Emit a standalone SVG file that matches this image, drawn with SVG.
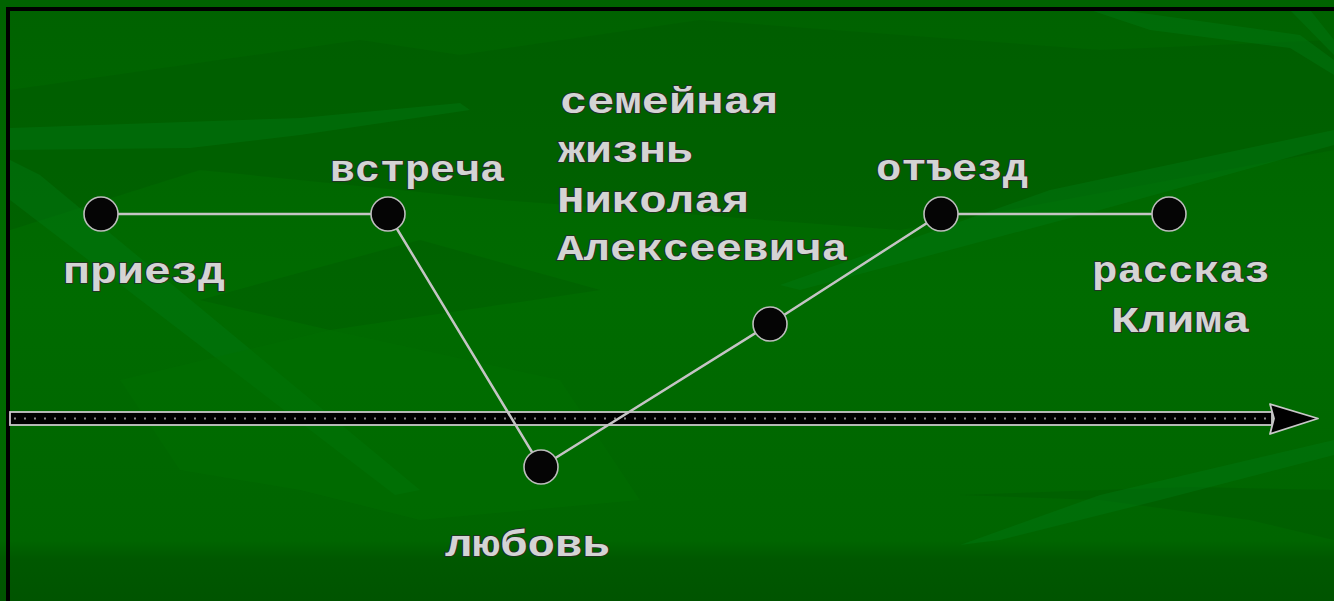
<svg xmlns="http://www.w3.org/2000/svg" width="1334" height="601" viewBox="0 0 1334 601">
<defs>
<linearGradient id="bg" x1="0" y1="0" x2="0" y2="1">
<stop offset="0" stop-color="#006200"/>
<stop offset="0.5" stop-color="#006b00"/>
<stop offset="0.9" stop-color="#006500"/>
<stop offset="0.93" stop-color="#005800"/>
<stop offset="1" stop-color="#005400"/>
</linearGradient>
<style>
.lbl{font-family:"Liberation Mono","DejaVu Sans Mono",monospace;font-size:36px;font-weight:bold;fill:#d4d4d4;stroke:#2a2a2a;stroke-width:1.6px;paint-order:stroke;}
.conn{stroke:#c4c4c4;stroke-width:2.5;fill:none;stroke-linecap:round;}
.dot{fill:#050505;stroke:#bdbdbd;stroke-width:1.6;}
.streak{fill:#007a14;opacity:0.4;}
.shade{fill:#005800;opacity:0.4;}
</style>
</defs>
<rect x="0" y="0" width="1334" height="601" fill="url(#bg)"/>
<g id="background">
<polygon class="shade" points="10,90 360,40 460,55 700,20 1100,50 1334,40 1334,150 900,230 500,200 200,170 10,230"/>
<polygon class="streak" points="10,128 300,118 460,103 470,110 300,135 190,148 10,150"/>
<polygon class="streak" points="10,160 40,175 420,490 395,495 10,200"/>
<polygon class="streak" points="1334,130 1334,145 1100,210 800,290 780,285 1050,190"/>
<polygon class="streak" points="1090,10 1120,10 1300,35 1334,60 1334,75 1290,48 1150,30"/>
<polygon class="streak" points="1290,10 1310,10 1334,40 1334,55"/>
<polygon class="shade" points="960,495 1190,487 1334,490 1334,540 1250,520 1100,500"/>
<polygon class="streak" points="1334,440 1334,455 1160,500 1000,540 960,545 1100,495"/>
<polygon fill="#007000" opacity="0.4" points="120,380 330,330 560,380 640,500 420,520 300,490 180,470"/>
<polygon fill="#005000" opacity="0.25" points="200,300 420,240 600,290 330,330"/>
</g>
<g id="frame">
<rect x="6" y="7" width="1328" height="4" fill="#000"/>
<rect x="6" y="7" width="4" height="594" fill="#000"/>
</g>
<g id="axis">
<rect x="10" y="412" width="1262" height="13" fill="#000" stroke="#c8c8c8" stroke-width="1.8"/>
<line x1="14" y1="418.5" x2="1268" y2="418.5" stroke="#8a8a8a" stroke-width="2" stroke-dasharray="2 8"/>
<polygon points="1270,404 1318,418.5 1270,434 1274,418.5" fill="#000" stroke="#c8c8c8" stroke-width="1.8" stroke-linejoin="round"/>
</g>
<g id="connectors">
<line class="conn" x1="101" y1="214" x2="388" y2="214"/>
<line class="conn" x1="388" y1="214" x2="541" y2="467"/>
<line class="conn" x1="541" y1="467" x2="770" y2="324"/>
<line class="conn" x1="770" y1="324" x2="941" y2="214"/>
<line class="conn" x1="941" y1="214" x2="1169" y2="214"/>
</g>
<g id="node-priezd">
<circle class="dot" cx="101" cy="214" r="17"/>
<text class="lbl" x="63" y="283" textLength="162" lengthAdjust="spacingAndGlyphs">приезд</text>
</g>
<g id="node-vstrecha">
<circle class="dot" cx="388" cy="214" r="17"/>
<text class="lbl" x="330" y="181" textLength="175" lengthAdjust="spacingAndGlyphs">встреча</text>
</g>
<g id="node-lyubov">
<circle class="dot" cx="541" cy="467" r="17"/>
<text class="lbl" x="445" y="556" textLength="165" lengthAdjust="spacingAndGlyphs">любовь</text>
</g>
<g id="node-semeynaya">
<circle class="dot" cx="770" cy="324" r="17"/>
<text class="lbl" x="560" y="113" textLength="218" lengthAdjust="spacingAndGlyphs">семейная</text>
<text class="lbl" x="558" y="162" textLength="135" lengthAdjust="spacingAndGlyphs">жизнь</text>
<text class="lbl" x="557" y="212" textLength="192" lengthAdjust="spacingAndGlyphs">Николая</text>
<text class="lbl" x="557" y="260" textLength="291" lengthAdjust="spacingAndGlyphs">Алексеевича</text>
</g>
<g id="node-otezd">
<circle class="dot" cx="941" cy="214" r="17"/>
<text class="lbl" x="876" y="180" textLength="152" lengthAdjust="spacingAndGlyphs">отъезд</text>
</g>
<g id="node-rasskaz">
<circle class="dot" cx="1169" cy="214" r="17"/>
<text class="lbl" x="1092" y="282" textLength="178" lengthAdjust="spacingAndGlyphs">рассказ</text>
<text class="lbl" x="1111" y="332" textLength="139" lengthAdjust="spacingAndGlyphs">Клима</text>
</g>
</svg>
